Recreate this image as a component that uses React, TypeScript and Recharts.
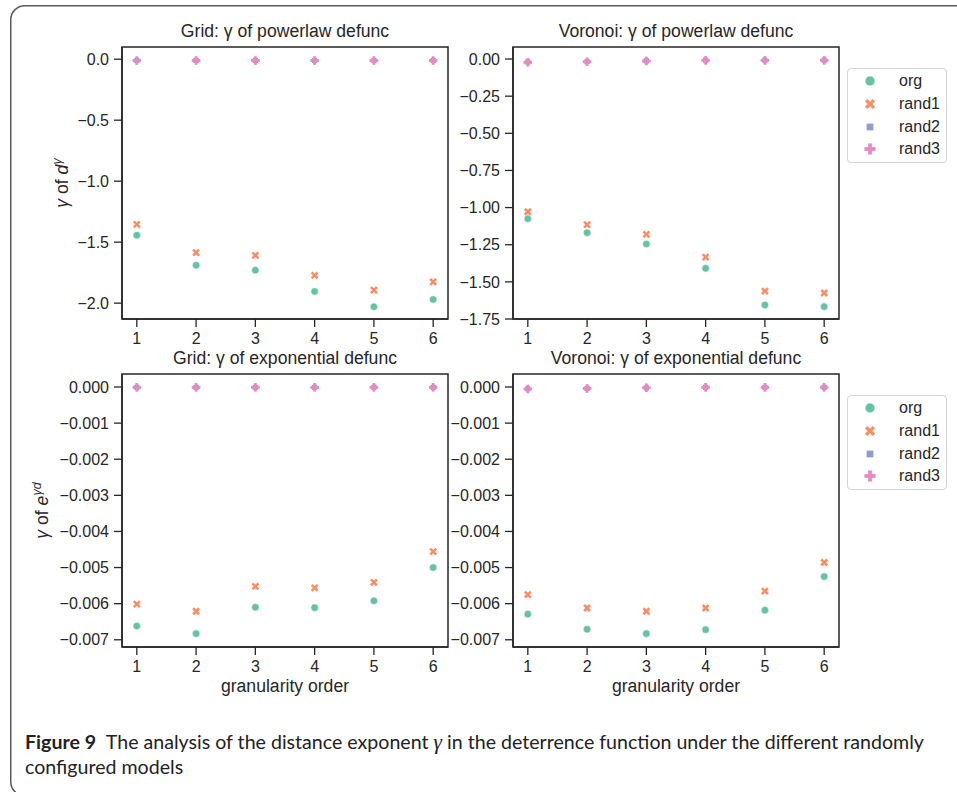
import React from "react";
import { ScatterChart, Scatter, XAxis, YAxis, ReferenceArea, Legend } from "recharts";

const orders = [1, 2, 3, 4, 5, 6];
const seriesNames = ["org", "rand1", "rand2", "rand3"];
const seriesColors = ["#66c2a5", "#fc8d62", "#8da0cb", "#e78ac3"];
const seriesKinds = ["circle", "x", "square", "plus"];

// Grid: gamma of powerlaw defunc
const gridPowOrg = [-1.443, -1.689, -1.73, -1.904, -2.03, -1.97];
const gridPowRand1 = [-1.355, -1.585, -1.609, -1.773, -1.893, -1.825];
const gridPowRand2 = [-0.01, -0.01, -0.01, -0.01, -0.01, -0.01];
const gridPowRand3 = [-0.011, -0.011, -0.011, -0.011, -0.011, -0.011];

// Voronoi: gamma of powerlaw defunc
const voroPowOrg = [-1.075, -1.169, -1.245, -1.409, -1.656, -1.667];
const voroPowRand1 = [-1.028, -1.115, -1.18, -1.333, -1.562, -1.575];
const voroPowRand2 = [-0.02, -0.017, -0.012, -0.008, -0.008, -0.008];
const voroPowRand3 = [-0.022, -0.018, -0.013, -0.009, -0.009, -0.009];

// Grid: gamma of exponential defunc
const gridExpOrg = [-0.00662, -0.00683, -0.0061, -0.00611, -0.00592, -0.005];
const gridExpRand1 = [-0.00601, -0.00621, -0.00552, -0.00556, -0.00541, -0.00456];
const gridExpRand2 = [-0.00001, -0.00001, -0.00001, -0.00001, -0.00001, -0.00001];
const gridExpRand3 = [-0.00001, -0.00001, -0.00001, -0.00001, -0.00001, -0.00001];

// Voronoi: gamma of exponential defunc
const voroExpOrg = [-0.00629, -0.00671, -0.00683, -0.00672, -0.00618, -0.00525];
const voroExpRand1 = [-0.00575, -0.00612, -0.00621, -0.00612, -0.00565, -0.00486];
const voroExpRand2 = [-0.00005, -0.00004, -0.00002, -0.00001, -0.00001, -0.00001];
const voroExpRand3 = [-0.000055, -0.00004, -0.00002, -0.00001, -0.00001, -0.00001];

const powTicksGrid = [-2, -1.5, -1, -0.5, 0];
const powTicksVoro = [-1.75, -1.5, -1.25, -1, -0.75, -0.5, -0.25, 0];
const expTicks = [-0.007, -0.006, -0.005, -0.004, -0.003, -0.002, -0.001, 0];

const FONT = "'Liberation Sans', Arial, sans-serif";
const INK = "#262626";
const AXIS_W = 120;
const PAD_T = 12;
const PAD_R = 10;
const AXIS_H = 60;

function fmt(v: number, d: number) {
  return v < 0 ? "\u2212" + Math.abs(v).toFixed(d) : v.toFixed(d);
}

function Glyph({ kind, x, y, color, s = 1 }: any) {
  if (kind === "circle")
    return <circle cx={x} cy={y} r={3.8 * s} fill={color} stroke="#fff" strokeWidth={0.6} />;
  if (kind === "x") {
    const d = 3 * s;
    return (
      <g stroke={color} strokeWidth={2.5 * s}>
        <line x1={x - d} y1={y - d} x2={x + d} y2={y + d} />
        <line x1={x - d} y1={y + d} x2={x + d} y2={y - d} />
      </g>
    );
  }
  if (kind === "square") {
    const h = 2.6 * s;
    return <rect x={x - h} y={y - h} width={2 * h} height={2 * h} fill={color} />;
  }
  const d = 4.3 * s;
  return (
    <g stroke={color} strokeWidth={2.9 * s}>
      <line x1={x - d} y1={y} x2={x + d} y2={y} />
      <line x1={x} y1={y - d} x2={x} y2={y + d} />
    </g>
  );
}

function LegendBox() {
  return (
    <div
      style={{
        width: 100,
        height: 95,
        boxSizing: "border-box",
        border: "1px solid #d4d4d4",
        borderRadius: 4,
        background: "#fff",
        paddingTop: 1,
        fontFamily: FONT,
        fontSize: 16,
        color: INK,
      }}
    >
      {seriesNames.map((name, i) => (
        <div key={name} style={{ height: 22.7, display: "flex", alignItems: "center" }}>
          <svg width={46} height={20}>
            <Glyph kind={seriesKinds[i]} x={22} y={10} color={seriesColors[i]} s={1.3} />
          </svg>
          <span style={{ marginLeft: 5 }}>{name}</span>
        </div>
      ))}
    </div>
  );
}

type PanelProps = {
  left: number;
  top: number;
  plotW: number;
  plotH: number;
  title: string;
  yDomain: [number, number];
  yTicks: number[];
  decimals: number;
  series: number[][];
  yLabel?: React.ReactNode;
  yLabelX?: number;
  xLabel?: string;
  legend?: boolean;
};

function Panel(p: PanelProps) {
  const chartLeft = p.left - AXIS_W;
  const chartTop = p.top - PAD_T;
  const width = AXIS_W + p.plotW + PAD_R;
  const height = PAD_T + p.plotH + AXIS_H;
  const tickStyle = { fill: INK, fontSize: 16, fontFamily: FONT };
  return (
    <>
      <div
        style={{
          position: "absolute",
          left: p.left,
          top: p.top - 26,
          width: p.plotW,
          textAlign: "center",
          fontFamily: FONT,
          fontSize: 17.6,
          lineHeight: "20px",
          color: INK,
          whiteSpace: "nowrap",
        }}
      >
        {p.title}
      </div>
      <div style={{ position: "absolute", left: chartLeft, top: chartTop }}>
        <ScatterChart
          width={width}
          height={height}
          margin={{ top: PAD_T, right: PAD_R, bottom: 0, left: 0 }}
        >
          <XAxis
            type="number"
            dataKey="x"
            domain={[0.75, 6.25]}
            ticks={orders}
            allowDataOverflow
            height={AXIS_H}
            tick={tickStyle}
            tickSize={8}
            tickMargin={6}
            axisLine={{ stroke: INK, strokeWidth: 1.5 }}
            tickLine={{ stroke: INK, strokeWidth: 1.3 }}
            label={
              p.xLabel
                ? {
                    value: p.xLabel,
                    position: "insideBottom",
                    offset: 15,
                    fill: INK,
                    fontSize: 17.6,
                    fontFamily: FONT,
                  }
                : undefined
            }
          />
          <YAxis
            type="number"
            dataKey="y"
            domain={p.yDomain}
            ticks={p.yTicks}
            allowDataOverflow
            width={AXIS_W}
            tick={tickStyle}
            tickSize={8}
            tickMargin={5}
            tickFormatter={(v: number) => fmt(v, p.decimals)}
            axisLine={{ stroke: INK, strokeWidth: 1.5 }}
            tickLine={{ stroke: INK, strokeWidth: 1.3 }}
            label={
              p.yLabel
                ? {
                    content: (lp: any) => {
                      const vb = lp.viewBox || {};
                      const cx = (p.yLabelX ?? 60) - chartLeft;
                      const cy = (vb.y ?? PAD_T) + (vb.height ?? p.plotH) / 2;
                      return (
                        <text
                          x={cx}
                          y={cy}
                          transform={`rotate(-90 ${cx} ${cy})`}
                          textAnchor="middle"
                          fill={INK}
                          fontSize={17.6}
                          fontFamily={FONT}
                        >
                          {p.yLabel}
                        </text>
                      );
                    },
                  }
                : undefined
            }
          />
          <ReferenceArea
            x1={0.75}
            x2={6.25}
            y1={p.yDomain[0]}
            y2={p.yDomain[1]}
            fill="none"
            fillOpacity={0}
            stroke={INK}
            strokeWidth={1.5}
            ifOverflow="visible"
          />
          {p.series.map((vals, si) => (
            <Scatter
              key={seriesNames[si]}
              name={seriesNames[si]}
              data={orders.map((o, i) => ({ x: o, y: vals[i] }))}
              fill={seriesColors[si]}
              isAnimationActive={false}
              shape={(sp: any) => (
                <Glyph kind={seriesKinds[si]} x={sp.cx} y={sp.cy} color={seriesColors[si]} />
              )}
            />
          ))}
          {p.legend && (
            <Legend
              layout="vertical"
              align="center"
              verticalAlign="middle"
              wrapperStyle={{ left: 847 - chartLeft, top: p.top + 21 - chartTop, width: 100 }}
              content={() => <LegendBox />}
            />
          )}
        </ScatterChart>
      </div>
    </>
  );
}

const powLabel = (
  <>
    <tspan fontStyle="italic">γ</tspan>
    <tspan> of </tspan>
    <tspan fontStyle="italic">d</tspan>
    <tspan dy={-7} fontSize={12.5} fontStyle="italic">
      γ
    </tspan>
  </>
);

const expLabel = (
  <>
    <tspan fontStyle="italic">γ</tspan>
    <tspan> of </tspan>
    <tspan fontStyle="italic">e</tspan>
    <tspan dy={-7} fontSize={12.5} fontStyle="italic">
      γd
    </tspan>
  </>
);

export default function App() {
  return (
    <div
      style={{
        position: "absolute",
        left: 0,
        top: 0,
        width: 957,
        height: 792,
        background: "#fff",
        overflow: "hidden",
      }}
    >
      <svg width={957} height={792} style={{ position: "absolute", left: 0, top: 0 }}>
        <rect x={10.75} y={5.75} width={1000} height={790} rx={14} fill="none" stroke="#5a5a5a" strokeWidth={1.5} />
      </svg>
      <Panel
        left={122}
        top={47}
        plotW={326}
        plotH={272}
        title="Grid: γ of powerlaw defunc"
        yDomain={[-2.13, 0.1]}
        yTicks={powTicksGrid}
        decimals={1}
        series={[gridPowOrg, gridPowRand1, gridPowRand2, gridPowRand3]}
        yLabel={powLabel}
        yLabelX={67.5}
      />
      <Panel
        left={513}
        top={47}
        plotW={326}
        plotH={272}
        title="Voronoi: γ of powerlaw defunc"
        yDomain={[-1.75, 0.081]}
        yTicks={powTicksVoro}
        decimals={2}
        series={[voroPowOrg, voroPowRand1, voroPowRand2, voroPowRand3]}
        legend
      />
      <Panel
        left={122}
        top={374}
        plotW={326}
        plotH={273}
        title="Grid: γ of exponential defunc"
        yDomain={[-0.0072, 0.00036]}
        yTicks={expTicks}
        decimals={3}
        series={[gridExpOrg, gridExpRand1, gridExpRand2, gridExpRand3]}
        yLabel={expLabel}
        yLabelX={48}
        xLabel="granularity order"
      />
      <Panel
        left={513}
        top={374}
        plotW={326}
        plotH={273}
        title="Voronoi: γ of exponential defunc"
        yDomain={[-0.0072, 0.00036]}
        yTicks={expTicks}
        decimals={3}
        series={[voroExpOrg, voroExpRand1, voroExpRand2, voroExpRand3]}
        xLabel="granularity order"
        legend
      />
      <div
        style={{
          position: "absolute",
          left: 25,
          top: 730,
          fontFamily: "Lato, 'Open Sans', sans-serif",
          fontSize: 19.6,
          lineHeight: "23.5px",
          color: "#222",
          whiteSpace: "nowrap",
        }}
      >
        <b>Figure 9</b>
        {"\u2002The analysis of the distance exponent "}
        <i style={{ fontFamily: "'Liberation Serif', serif", fontSize: 21.5 }}>γ</i>
        {" in the deterrence function under the different randomly"}
        <br />
        configured models
      </div>
    </div>
  );
}
